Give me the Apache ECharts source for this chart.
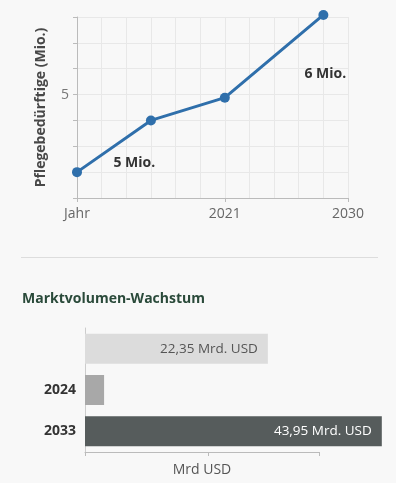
<!DOCTYPE html>
<html><head><meta charset="utf-8">
<script src="https://cdn.jsdelivr.net/npm/echarts@6/dist/echarts.min.js"></script>
<style>html,body{margin:0;padding:0;background:#f8f8f8}#c{width:396px;height:483px}</style>
</head><body><div id="c"></div>
<script>
// Line chart data
const lineCategories = ['Jahr', '', '', '', '', '', '2021', '', '', '', '', '2030'];
const lineIndex = [0, 3, 6, 10];
const lineValues = [4.25, 4.75, 4.97, 5.77];
const annotationTexts = ['5 Mio.', '6 Mio.'];
const annotationCoords = [[2, 4.34], [10, 5.2]];
const annotationOffsets = [[8, 0], [2, 0]];
// Bar chart data
const barCategories = ['', '2024', '2033'];
const barValues = [29.7, 3.1, 48.2];
const barLabels = ['22,35 Mrd. USD', '', '43,95 Mrd. USD'];
const barColors = ['#dcdcdc', '#a8a8a8', '#565c5c'];
const barLabelColors = ['#555555', '#555555', '#ffffff'];

const chart = echarts.init(document.getElementById('c'), null, {renderer: 'canvas'});
const FONT = 'Open Sans';
const option = {
  backgroundColor: '#f8f8f8',
  animation: false,
  textStyle: {fontFamily: FONT},
  graphic: [
    {type: 'line', shape: {x1: 21, y1: 257.5, x2: 378, y2: 257.5}, style: {stroke: '#dddddd', lineWidth: 1}},
    {type: 'text', left: 22, top: 292, style: {text: 'Marktvolumen-Wachstum', fill: '#2a4a3a', font: 'bold 14px "Open Sans"'}}
  ],
  grid: [
    {left: 77, right: 48, top: 17, bottom: 285},
    {left: 85, right: 77, top: 328, bottom: 31}
  ],
  xAxis: [
    {
      type: 'category', gridIndex: 0, data: lineCategories, boundaryGap: false,
      axisLine: {lineStyle: {color: '#bbbbbb'}},
      axisTick: {interval: (i) => lineCategories[i] !== '', length: 4, lineStyle: {color: '#bbbbbb'}},
      axisLabel: {interval: 0, color: '#666666', fontSize: 14, margin: 9},
      splitLine: {show: true, interval: 0, lineStyle: {color: '#e8e8e8'}}
    },
    {
      type: 'value', gridIndex: 1, min: 0, max: 38, interval: 20,
      axisLine: {show: true, lineStyle: {color: '#bbbbbb'}},
      axisTick: {show: true, length: 4, lineStyle: {color: '#bbbbbb'}},
      axisLabel: {show: false},
      splitLine: {show: false},
      name: 'Mrd USD', nameLocation: 'middle', nameGap: 11,
      nameTextStyle: {color: '#555555', fontSize: 14}
    }
  ],
  yAxis: [
    {
      type: 'value', gridIndex: 0, min: 4, max: 5.75, interval: 0.25,
      axisLine: {show: true, lineStyle: {color: '#bbbbbb'}},
      axisTick: {show: true, length: 4, lineStyle: {color: '#bbbbbb'}},
      axisLabel: {formatter: (v) => (Math.abs(v - 5) < 1e-9 ? '5' : ''), color: '#777777', fontSize: 14, margin: 8},
      splitLine: {lineStyle: {color: '#e8e8e8'}},
      name: 'Pflegebedürftige (Mio.)', nameLocation: 'middle', nameGap: 29,
      nameTextStyle: {color: '#484848', fontSize: 14, fontWeight: 'bold'}
    },
    {
      type: 'category', gridIndex: 1, data: barCategories, inverse: true,
      axisLine: {lineStyle: {color: '#cccccc'}},
      axisTick: {show: false},
      axisLabel: {color: '#333333', fontWeight: 'bold', fontSize: 14, margin: 9}
    }
  ],
  series: [
    {
      type: 'line', xAxisIndex: 0, yAxisIndex: 0, clip: false,
      data: lineIndex.map((x, i) => [x, lineValues[i]]),
      lineStyle: {color: '#2f6fab', width: 3},
      itemStyle: {color: '#2f6fab'},
      symbol: 'circle', symbolSize: 10,
      markPoint: {
        symbol: 'circle', symbolSize: 0,
        data: annotationTexts.map((t, i) => ({coord: annotationCoords[i], value: t, label: {offset: annotationOffsets[i]}})),
        label: {show: true, formatter: (p) => p.value, color: '#333333', fontWeight: 'bold', fontSize: 14, position: 'inside'}
      }
    },
    {
      type: 'bar', xAxisIndex: 1, yAxisIndex: 1, barWidth: 30, clip: false,
      data: barValues.map((v, i) => ({
        value: v,
        itemStyle: {color: barColors[i]},
        label: {show: barLabels[i] !== '', formatter: barLabels[i], color: barLabelColors[i]}
      })),
      label: {show: true, position: 'insideRight', distance: 10, fontSize: 13.5}
    }
  ]
};
chart.setOption(option);
</script></body></html>
